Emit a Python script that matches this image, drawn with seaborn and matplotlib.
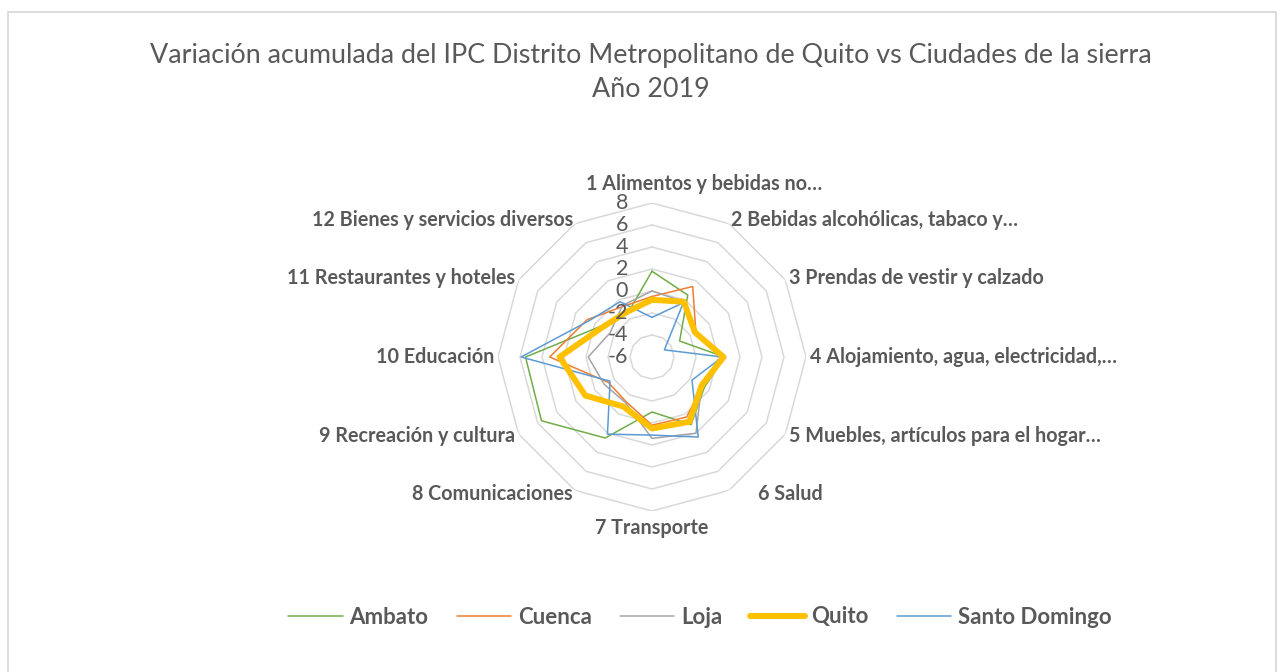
import numpy as np
import matplotlib
matplotlib.use('Agg')
import matplotlib.pyplot as plt
import matplotlib.transforms as mtransforms
from matplotlib.lines import Line2D
from matplotlib.patches import Rectangle
import seaborn as sns

# ──────────────────────────────────────────────────────────────────────────────
# Datos
# ──────────────────────────────────────────────────────────────────────────────

categorias = [
    '1 Alimentos y bebidas no…',
    '2 Bebidas alcohólicas, tabaco y…',
    '3 Prendas de vestir y calzado',
    '4 Alojamiento, agua, electricidad,…',
    '5 Muebles, artículos para el hogar…',
    '6 Salud',
    '7 Transporte',
    '8 Comunicaciones',
    '9 Recreación y cultura',
    '10 Educación',
    '11 Restaurantes y hoteles',
    '12 Bienes y servicios diversos',
]

ambato = [1.8, 0.5, -3.1, 0.6, -0.5, 1.1, -1.0, 2.5, 5.6, 5.5, -0.5, -1.5]
cuenca = [-0.5, 1.4, -1.4, 0.7, -0.7, 0.3, 0.2, -1.3, -1.4, 3.3, 0.8, -0.7]
loja = [0.0, -0.2, -1.5, 0.5, -0.8, 2.0, 1.4, -1.2, -1.0, -0.2, -1.6, -0.6]
quito = [-0.8, -0.2, -1.5, 0.5, -0.8, 0.8, 0.5, -0.8, 1.0, 2.4, -0.7, -1.3]
santo_domingo = [-2.4, -0.3, -4.7, 0.4, -1.8, 2.4, 1.1, 2.1, -1.6, 5.9, 0.6, -0.2]

ciudades = ['Ambato', 'Cuenca', 'Loja', 'Quito', 'Santo Domingo']
series = [ambato, cuenca, loja, quito, santo_domingo]
ticks_r = [-6, -4, -2, 0, 2, 4, 6, 8]

titulo = ('Variación acumulada del IPC Distrito Metropolitano de Quito vs Ciudades de la sierra\n'
          'Año 2019')

# ──────────────────────────────────────────────────────────────────────────────
# Estilo
# ──────────────────────────────────────────────────────────────────────────────

COLORES = {
    'Ambato': '#70AD47',
    'Cuenca': '#ED7D31',
    'Loja': '#A5A5A5',
    'Quito': '#FFC000',
    'Santo Domingo': '#5B9BD5',
}
GROSOR = {'Ambato': 1.1, 'Cuenca': 1.1, 'Loja': 1.1, 'Quito': 4.3, 'Santo Domingo': 1.1}
GRIS_TEXTO = '#595959'
GRIS_GRILLA = '#D9D9D9'

# desplazamientos (px) de algunas etiquetas, como las coloca Excel
DESPLAZA = {0: (52, 3), 5: (27, 0)}

sns.set_style('white')
plt.rcParams['font.family'] = ['Lato', 'DejaVu Sans']

W, H = 1284, 672
fig = plt.figure(figsize=(W / 100, H / 100), dpi=100)

# centro del radar en (652, 357) px, radio exterior 154 px
cx, cy, rad = 652, 357, 154
ax = fig.add_axes([(cx - rad) / W, (H - cy - rad) / H, 2 * rad / W, 2 * rad / H],
                  projection='polar')
ax.set_theta_zero_location('N')
ax.set_theta_direction(-1)
ax.set_ylim(ticks_r[0], ticks_r[-1])
ax.grid(False)
ax.set_xticks([])
ax.set_yticks([])
ax.spines['polar'].set_visible(False)
ax.set_facecolor('none')

n = len(categorias)
theta = np.linspace(0, 2 * np.pi, n, endpoint=False)
theta_c = np.append(theta, 2 * np.pi)   # cierre del polígono sin repetir x

# anillos poligonales
for v in ticks_r[1:]:
    ax.plot(theta_c, [v] * (n + 1), color=GRIS_GRILLA, lw=1.1, zorder=0)

# series
for nombre, valores in zip(ciudades, series):
    vals = list(valores) + [valores[0]]
    sns.lineplot(x=theta_c, y=vals, ax=ax, sort=False, color=COLORES[nombre],
                 lw=GROSOR[nombre], legend=False, zorder=3 if nombre == 'Quito' else 2)
ax.set_xlabel('')
ax.set_ylabel('')

# etiquetas del eje radial
trans_tick = mtransforms.offset_copy(ax.transData, fig=fig, x=-24, y=0, units='dots')
for v in ticks_r:
    ax.text(0, v, str(v), transform=trans_tick, ha='right', va='center',
            fontsize=15.5, color=GRIS_TEXTO, zorder=4)

# etiquetas de categorías
for i, (ang, cat) in enumerate(zip(theta, categorias)):
    s = np.sin(ang)
    if s > 0.1:
        ha, r = 'left', 8.35
    elif s < -0.1:
        ha, r = 'right', 8.35
    else:
        ha, r = 'center', 9.5
    dx, dy = DESPLAZA.get(i, (0, 0))
    tr = mtransforms.offset_copy(ax.transData, fig=fig, x=dx, y=dy, units='dots')
    ax.text(ang, r, cat, transform=tr, ha=ha, va='center', fontsize=14.2,
            fontweight='bold', color=GRIS_TEXTO, clip_on=False)

# título
fig.text(651 / W, 1 - 72.5 / H, titulo, ha='center', va='center', fontsize=19.4,
         color=GRIS_TEXTO, linespacing=1.42)

# leyenda
handles = [Line2D([], [], color=COLORES[c], lw=GROSOR[c]) for c in ciudades]
fig.legend(handles, ciudades, loc='center', bbox_to_anchor=(700 / W, 1 - 617 / H),
           ncol=5, frameon=False, handlelength=2.45, handletextpad=0.3,
           columnspacing=1.27, prop={'family': 'Lato', 'weight': 'bold', 'size': 16},
           labelcolor=GRIS_TEXTO)

# borde del área del gráfico
fig.patches.append(Rectangle((8 / W, -0.05), (1276 - 8) / W, 0.05 + 1 - 12 / H,
                             transform=fig.transFigure, fill=False,
                             edgecolor=GRIS_GRILLA, lw=1.3))

plt.savefig('out.png', dpi=100)
